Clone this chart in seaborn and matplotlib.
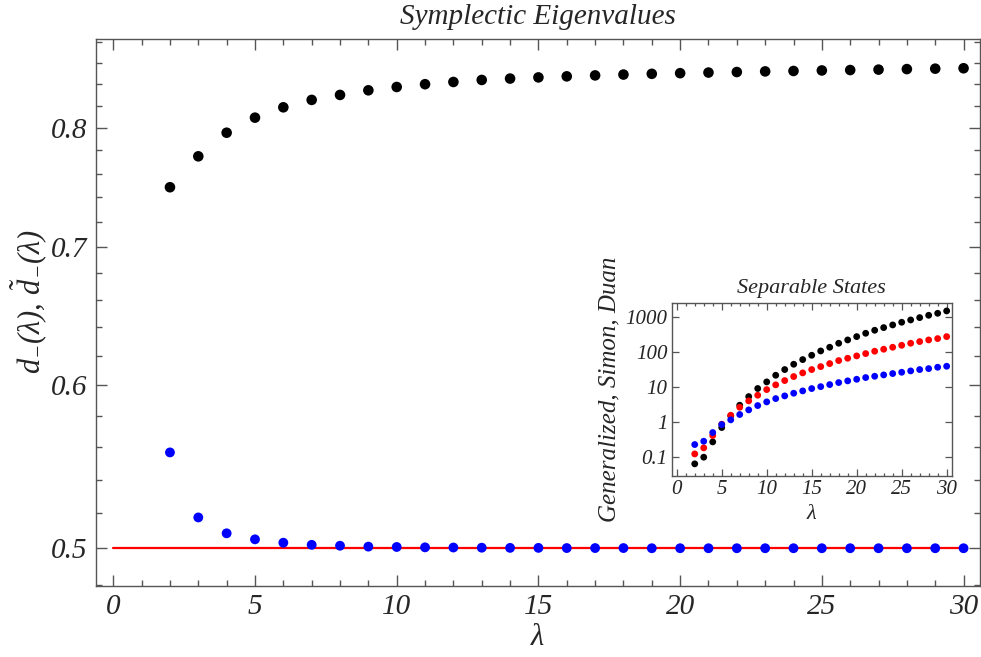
import numpy as np
import pandas as pd
import matplotlib
matplotlib.use("Agg")
import matplotlib.pyplot as plt
import matplotlib.ticker as mticker
import seaborn as sns

# ---------------- data ----------------
lam = list(range(2, 31))
d_black = [0.7485, 0.7748, 0.7955, 0.8090, 0.8184, 0.8252, 0.8298, 0.8341, 0.8372,
           0.8398, 0.8419, 0.8438, 0.8451, 0.8462, 0.8472, 0.8481, 0.8489, 0.8496,
           0.8502, 0.8508, 0.8513, 0.8519, 0.8523, 0.8528, 0.8532, 0.8536, 0.8541,
           0.8545, 0.8549]
d_blue = [0.5566, 0.5176, 0.5085, 0.5051, 0.5032, 0.5020, 0.5015, 0.5010, 0.5008,
          0.5006, 0.5005, 0.5004, 0.5003, 0.5003, 0.5002, 0.5002, 0.5002, 0.5001,
          0.5001, 0.5001, 0.5001, 0.5001, 0.5001, 0.5001, 0.5001, 0.5001, 0.5001,
          0.5001, 0.5001]
line_x = [0, 30]
line_y = [0.5, 0.5]

gen_black = [0.0645, 0.1, 0.274, 0.705, 1.52, 3.06, 5.4, 9.2, 14.2, 22, 32, 45.4, 61.7,
             82, 109, 139, 181, 225, 280, 349, 425, 507, 604, 720, 839, 978, 1140,
             1300, 1517]
simon_red = [0.124, 0.185, 0.416, 0.877, 1.58, 2.68, 4.07, 5.9, 8.57, 11.7, 15.5, 20.2,
             25.7, 32, 38.9, 47.4, 57.8, 67.4, 78.6, 91.6, 107, 122, 139, 158, 181,
             202, 225, 246, 280]
duan_blue = [0.23, 0.286, 0.507, 0.857, 1.17, 1.66, 2.25, 2.99, 3.81, 4.74, 5.65, 6.74,
             7.86, 9.16, 10.4, 11.9, 13.6, 15.2, 16.9, 18.9, 20.6, 22.5, 24.6, 26.8,
             29.3, 32, 34.1, 37.3, 39.8]

main_yticks = [0.5, 0.6, 0.7, 0.8]
main_xticks = [0, 5, 10, 15, 20, 25, 30]
inset_yticks = [0.1, 1, 10, 100, 1000]
inset_yticklabels = ["0.1", "1", "10", "100", "1000"]

# ---------------- style ----------------
sns.set_style("ticks")
plt.rcParams["font.family"] = ["Liberation Serif", "DejaVu Serif"]
plt.rcParams["font.style"] = "italic"
plt.rcParams["mathtext.fontset"] = "custom"
plt.rcParams["mathtext.rm"] = "Liberation Serif"
plt.rcParams["mathtext.it"] = "Liberation Serif:italic"
plt.rcParams["mathtext.bf"] = "Liberation Serif:bold"
frame_col = "#555555"

fig = plt.figure(figsize=(9.81, 6.57), dpi=100)
W, H = 981, 657
ax = fig.add_axes([95.7 / W, 1 - 585.7 / H, (980 - 95.7) / W, (585.7 - 39.3) / H])

sns.lineplot(x=line_x, y=line_y, ax=ax, color="#ff0000", linewidth=1.6, zorder=1)
sns.scatterplot(x=lam, y=d_black, ax=ax, color="black", s=58, edgecolor="none", zorder=3)
sns.scatterplot(x=lam, y=d_blue, ax=ax, color="#0000ff", s=50, edgecolor="none", zorder=3)

ax.set_yscale("log")
ax.set_xlim(-0.62, 30.58)
ax.set_ylim(0.4796, 0.883)
ax.yaxis.set_major_locator(mticker.FixedLocator(main_yticks))
ax.yaxis.set_major_formatter(mticker.FixedFormatter([f"{v:.1f}" for v in main_yticks]))
minor_y = [round(v, 2) for v in np.arange(0.48, 0.8801, 0.02) if round(v, 2) not in main_yticks]
ax.yaxis.set_minor_locator(mticker.FixedLocator(minor_y))
ax.yaxis.set_minor_formatter(mticker.NullFormatter())
ax.xaxis.set_major_locator(mticker.FixedLocator(main_xticks))
ax.xaxis.set_minor_locator(mticker.MultipleLocator(1))

for sp in ax.spines.values():
    sp.set_visible(True)
    sp.set_color(frame_col)
    sp.set_linewidth(1.0)
ax.tick_params(which="both", direction="in", top=True, right=True, color=frame_col,
               labelsize=21, pad=6)
ax.tick_params(which="major", length=8, width=1)
ax.tick_params(which="minor", length=4, width=1)

ax.set_xlabel(r"$\lambda$", fontsize=22, labelpad=2)
ax.set_ylabel(r"$d_{-}(\lambda),\,\tilde{d}_{-}(\lambda)$", fontsize=22)
ax.yaxis.set_label_coords(-0.052, 0.52)
ax.set_title("Symplectic Eigenvalues", fontsize=21, style="italic", pad=11)

# ---------------- inset ----------------
ins = fig.add_axes([671.7 / W, 1 - 476 / H, 280 / W, (476 - 302.7) / H])
sns.scatterplot(x=lam, y=gen_black, ax=ins, color="black", s=24, edgecolor="none", zorder=3)
sns.scatterplot(x=lam, y=simon_red, ax=ins, color="#ff0000", s=24, edgecolor="none", zorder=3)
sns.scatterplot(x=lam, y=duan_blue, ax=ins, color="#0000ff", s=24, edgecolor="none", zorder=3)
ins.set_yscale("log")
ins.set_xlim(-0.56, 30.56)
ins.set_ylim(0.029, 2610)
ins.yaxis.set_major_locator(mticker.FixedLocator(inset_yticks))
ins.yaxis.set_major_formatter(mticker.FixedFormatter(inset_yticklabels))
ins.yaxis.set_minor_locator(mticker.LogLocator(base=10, subs=np.arange(2, 10)))
ins.yaxis.set_minor_formatter(mticker.NullFormatter())
ins.xaxis.set_major_locator(mticker.FixedLocator(main_xticks))
ins.xaxis.set_minor_locator(mticker.MultipleLocator(1))
for sp in ins.spines.values():
    sp.set_visible(True)
    sp.set_color(frame_col)
    sp.set_linewidth(1.0)
ins.tick_params(which="both", direction="in", top=True, right=True, color=frame_col,
                labelsize=15, pad=3)
ins.tick_params(which="major", length=5, width=0.9)
ins.tick_params(which="minor", length=2.5, width=0.9)
ins.set_xlabel(r"$\lambda$", fontsize=16, labelpad=4)
ins.set_ylabel("Generalized, Simon, Duan", fontsize=18, style="italic", labelpad=4)
ins.set_title("Separable States", fontsize=16, style="italic", pad=7)

fig.savefig("out.png", dpi=100)
